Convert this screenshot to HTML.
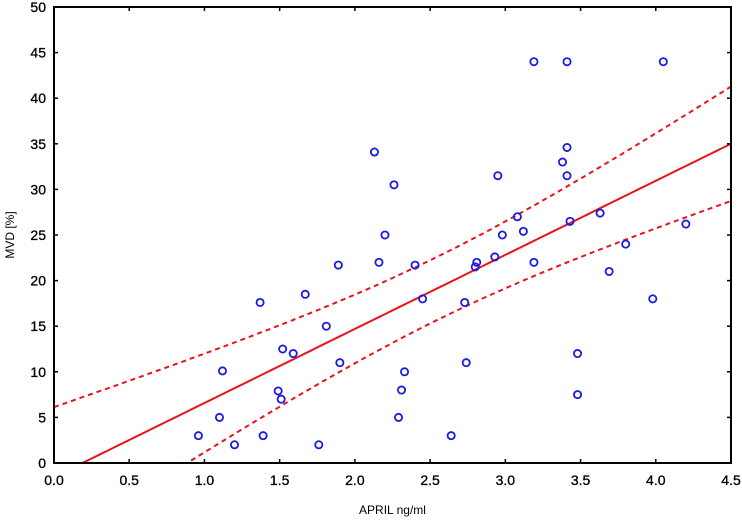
<!DOCTYPE html>
<html><head><meta charset="utf-8"><style>
body{margin:0;background:#fff;}
svg text{font-family:"Liberation Sans",sans-serif;fill:#000;}
</style></head><body>
<svg id="chart" width="742" height="520" xmlns="http://www.w3.org/2000/svg"></svg>
<script>
const xVals=[0.96,1.1,1.12,1.2,1.39,1.37,1.49,1.51,1.52,1.59,1.67,1.76,1.81,1.89,1.9,2.13,2.16,2.2,2.26,2.4,2.45,2.31,2.29,2.33,2.64,2.73,2.74,2.8,2.81,2.93,2.95,2.98,3.08,3.12,3.19,3.19,3.38,3.41,3.41,3.41,3.43,3.48,3.48,3.63,3.69,3.8,3.98,4.05,4.2];
const yVals=[3,5,10.1,2,3,17.6,7.9,7,12.5,12,18.5,2,15,21.7,11,34.1,22,25,30.5,21.7,18,8,5,10,3,17.6,11,21.5,22,22.6,31.5,25,27,25.4,44,22,33,44,34.6,31.5,26.5,12,7.5,27.4,21,24,18,44,26.2];
const xTicks=[0.0,0.5,1.0,1.5,2.0,2.5,3.0,3.5,4.0,4.5];
const yTicks=[0,5,10,15,20,25,30,35,40,45,50];
const fitSlope=[8.12];
const fitIntercept=[-1.54];
const bandA=[12],bandB=[7.2],bandMean=[2.55];

const L=54,R=731,T=7,B=463;
const sx=v=>L+(v-0)/(4.5-0)*(R-L);
const sy=v=>B-(v-0)/(50-0)*(B-T);
const svg=document.getElementById('chart');
const NS='http://www.w3.org/2000/svg';
function mk(tag,attrs){const e=document.createElementNS(NS,tag);for(const k in attrs)e.setAttribute(k,attrs[k]);svg.appendChild(e);return e;}

const defs=mk('defs',{});
const cp=document.createElementNS(NS,'clipPath');cp.setAttribute('id','clip');
const cr=document.createElementNS(NS,'rect');cr.setAttribute('x',L);cr.setAttribute('y',T);cr.setAttribute('width',R-L);cr.setAttribute('height',B-T);
cp.appendChild(cr);defs.appendChild(cp);

const fit=x=>fitIntercept[0]+fitSlope[0]*x;
const hw=x=>Math.sqrt(bandA[0]+bandB[0]*(x-bandMean[0])**2);
function linePath(f){let d='';for(let i=0;i<=90;i++){const x=4.5*i/90;d+=(i?'L':'M')+sx(x).toFixed(1)+','+sy(f(x)).toFixed(1);}return d;}
const fl=mk('path',{d:linePath(fit),fill:'none',stroke:'#e8141c','stroke-width':2,'clip-path':'url(#clip)'});


const ub=mk('path',{d:linePath(x=>fit(x)+hw(x)),fill:'none',stroke:'#e8141c','stroke-width':2,'stroke-dasharray':'5,4','clip-path':'url(#clip)'});


const lb=mk('path',{d:linePath(x=>fit(x)-hw(x)),fill:'none',stroke:'#e8141c','stroke-width':2,'stroke-dasharray':'5,4','clip-path':'url(#clip)'});



xVals.forEach((x,i)=>{
  const c=mk('circle',{cx:sx(x),cy:sy(yVals[i]),r:3.6,fill:'none',stroke:'#1a1ae6','stroke-width':1.8});
  
  
});

const fr=mk('rect',{x:L,y:T,width:R-L,height:B-T,fill:'none',stroke:'#000','stroke-width':2});



xTicks.forEach(v=>{
  const x=sx(v);
  mk('line',{x1:x,y1:B,x2:x,y2:B-4,stroke:'#000','stroke-width':1.5});
  mk('line',{x1:x,y1:T,x2:x,y2:T+4,stroke:'#000','stroke-width':1.5});
  const t=mk('text',{x:x,y:B+22,'text-anchor':'middle','font-size':14,stroke:'#000','stroke-width':0.3});
  t.textContent=v.toFixed(1);
  
  
});
yTicks.forEach(v=>{
  const y=sy(v);
  mk('line',{x1:L,y1:y,x2:L+4,y2:y,stroke:'#000','stroke-width':1.5});
  mk('line',{x1:R,y1:y,x2:R-4,y2:y,stroke:'#000','stroke-width':1.5});
  const t=mk('text',{x:L-8,y:y+5,'text-anchor':'end','font-size':14,stroke:'#000','stroke-width':0.3});
  t.textContent=v;
  
  
});
const xt=mk('text',{x:(L+R)/2,y:514,'text-anchor':'middle','font-size':12});
xt.textContent='APRIL ng/ml';


const yt=mk('text',{x:0,y:0,'text-anchor':'middle','font-size':12,transform:'translate(14,'+((T+B)/2)+') rotate(-90)'});
yt.textContent='MVD [%]';


</script>
</body></html>
